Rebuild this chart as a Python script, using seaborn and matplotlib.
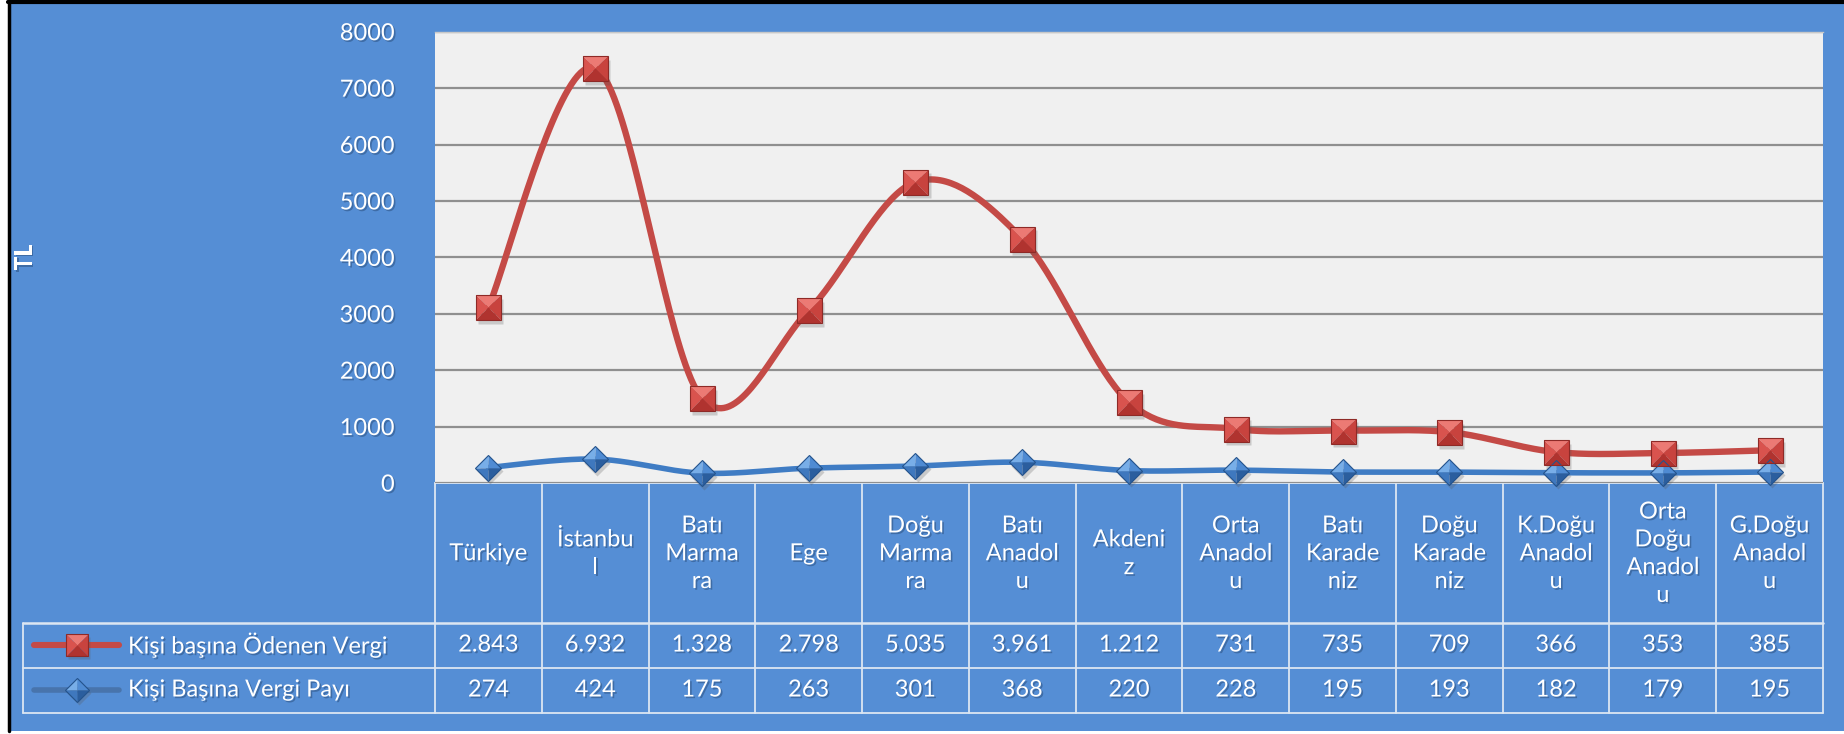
import numpy as np
import pandas as pd
import matplotlib
matplotlib.use("Agg")
import matplotlib.pyplot as plt
import matplotlib.patheffects as pe
from matplotlib.patches import Rectangle
import seaborn as sns

# ---------------- data ----------------
categories = ["Türkiye", "İstanbul", "Batı Marmara", "Ege", "Doğu Marmara",
              "Batı Anadolu", "Akdeniz", "Orta Anadolu", "Batı Karadeniz",
              "Doğu Karadeniz", "K.Doğu Anadolu", "Orta Doğu Anadolu",
              "G.Doğu Anadolu"]
header_labels = ["Türkiye", "İstanbu\nl", "Batı\nMarma\nra", "Ege",
                 "Doğu\nMarma\nra", "Batı\nAnadol\nu", "Akdeni\nz",
                 "Orta\nAnadol\nu", "Batı\nKarade\nniz", "Doğu\nKarade\nniz",
                 "K.Doğu\nAnadol\nu", "Orta\nDoğu\nAnadol\nu",
                 "G.Doğu\nAnadol\nu"]
odenen_vergi = [2843, 6932, 1328, 2798, 5035, 3961, 1212, 731, 735, 709, 366, 353, 385]
vergi_payi = [274, 424, 175, 263, 301, 368, 220, 228, 195, 193, 182, 179, 195]
series_names = ["Kişi başına Ödenen Vergi", "Kişi Başına Vergi Payı"]
y_ticks = [0, 1000, 2000, 3000, 4000, 5000, 6000, 7000, 8000]
y_label = "TL"

# ---------------- style ----------------
sns.set_style("white")
plt.rcParams["font.family"] = ["Lato", "DejaVu Sans"]

W, H = 1844, 734
BG = "#558ED5"
RED_LINE = "#C44A46"
BLUE_LINE = "#3F7CC4"
GRID_C = "#DCE6F2"
FS = 17
shadow = [pe.withSimplePatchShadow(offset=(1.2, -1.2), shadow_rgbFace="#23446e", alpha=0.45)]

fig = plt.figure(figsize=(W / 100, H / 100), dpi=100, facecolor="white")

# overlay in pixel coordinates for frame and table
ov = fig.add_axes([0, 0, 1, 1], zorder=0)
ov.set_xlim(0, W)
ov.set_ylim(H, 0)
ov.axis("off")
ov.patch.set_alpha(0)
ov.add_patch(Rectangle((8, 0), W - 8, 731, facecolor=BG, edgecolor="none"))
ov.plot([8.5, 8.5], [0, 731], color="black", lw=2.5)
ov.plot([8, W], [1.5, 1.5], color="black", lw=3)

# plot area geometry (pixels)
PL, PR, PT, PB = 435, 1823, 31.7, 483
ax = fig.add_axes([PL / W, 1 - PB / H, (PR - PL) / W, (PB - PT) / H], zorder=2)
ax.set_facecolor("#F0F0F0")
n = len(categories)
ax.set_xlim(-0.5, n - 0.5)
ax.set_ylim(y_ticks[0], y_ticks[-1])
ax.set_yticks(y_ticks)
ax.set_yticklabels([str(t) for t in y_ticks])
ax.set_xticks([])
for s in ax.spines.values():
    s.set_visible(False)
ax.spines["top"].set_visible(True)
ax.spines["top"].set_color("#C8C8C8")
ax.spines["top"].set_linewidth(1)
ax.yaxis.grid(True, color="#8F8F8F", lw=1.6)
ax.set_axisbelow(True)
ax.tick_params(axis="y", length=0, pad=29, labelsize=FS, labelcolor="white")
for lab in ax.get_yticklabels():
    lab.set_path_effects(shadow)


def smooth(yvals, steps=40):
    y = np.asarray(yvals, float)
    x = np.arange(len(y), dtype=float)
    P = np.column_stack([x, y])
    Pp = np.vstack([P[0], P, P[-1]])
    t = np.linspace(0, 1, steps)[:, None]
    out = []
    for i in range(len(P) - 1):
        p0, p1, p2, p3 = Pp[i], Pp[i + 1], Pp[i + 2], Pp[i + 3]
        c1 = p1 + (p2 - p0) / 6
        c2 = p2 - (p3 - p1) / 6
        seg = (1 - t) ** 3 * p1 + 3 * (1 - t) ** 2 * t * c1 + 3 * (1 - t) * t ** 2 * c2 + t ** 3 * p2
        out.append(seg if i == 0 else seg[1:])
    return np.vstack(out)


# Excel stacked line chart: the upper series is drawn on top of the lower
stack_top = np.array(odenen_vergi) + np.array(vergi_payi)
xs = np.arange(n)

sb = smooth(vergi_payi)
sr = smooth(stack_top)
df_b = pd.DataFrame({"x": sb[:, 0], "y": sb[:, 1]})
df_r = pd.DataFrame({"x": sr[:, 0], "y": sr[:, 1]})
sns.lineplot(data=df_b, x="x", y="y", sort=False, estimator=None, ax=ax,
             color=BLUE_LINE, lw=4.0, zorder=3, solid_capstyle="round")
sns.lineplot(data=df_r, x="x", y="y", sort=False, estimator=None, ax=ax,
             color=RED_LINE, lw=4.6, zorder=3, solid_capstyle="round")
ax.set_xlabel("")
ax.set_ylabel("")

# pyramid-style markers built from four triangles
SQ_TRIS = [([(-1, 1), (1, 1), (0, 0)], "#EC7A74"),   # top
           ([(-1, 1), (-1, -1), (0, 0)], "#D9534E"),  # left
           ([(1, 1), (1, -1), (0, 0)], "#C8433E"),    # right
           ([(-1, -1), (1, -1), (0, 0)], "#B0332F")]  # bottom
DM_TRIS = [([(0, 1), (-1, 0), (0, 0)], "#78AEE8"),
           ([(0, 1), (1, 0), (0, 0)], "#4F8BD3"),
           ([(-1, 0), (0, -1), (0, 0)], "#3F78BE"),
           ([(1, 0), (0, -1), (0, 0)], "#2B5E9E")]


def pyramid(axis, x, y, tris, ms, edge):
    # soft shadow
    axis.plot(np.asarray(x, float), np.asarray(y, float), ls="none",
              marker=tris[0][0] if False else ("s" if tris is SQ_TRIS else "D"),
              ms=ms * (1.0 if tris is SQ_TRIS else 0.72), mfc="#555555", mec="none",
              alpha=0.25, zorder=4, clip_on=False,
              transform=axis.transData + matplotlib.transforms.ScaledTranslation(1.5 / 72, -2.5 / 72, fig.dpi_scale_trans))
    for verts, col in tris:
        axis.plot(x, y, ls="none", marker=verts, ms=ms, mfc=col, mec="none",
                  zorder=5, clip_on=False)
    axis.plot(x, y, ls="none", marker=("s" if tris is SQ_TRIS else "D"),
              ms=ms * (1.0 if tris is SQ_TRIS else 0.707), mfc="none", mec=edge,
              mew=0.8, zorder=6, clip_on=False)


pyramid(ax, xs, vergi_payi, DM_TRIS, 19, "#24538C")
pyramid(ax, xs, stack_top, SQ_TRIS, 18, "#8E2A27")

# y-axis title
ov.text(24, (PT + PB) / 2, y_label, rotation=90, ha="center", va="center",
        color="white", fontsize=FS, fontweight="bold", path_effects=shadow)

# ---------------- data table ----------------
colw = (PR - PL) / n
ROW0, ROW1, ROW2, ROW3 = PB, 622.5, 667.5, 712.5
LEG_L = 23
lw_t = 1.3
for k in range(n + 1):
    xk = PL + k * colw
    ov.plot([xk, xk], [ROW0, ROW3], color=GRID_C, lw=lw_t, zorder=1)
ov.plot([PL, PR], [ROW0, ROW0], color=GRID_C, lw=lw_t, zorder=1)
for yy in (ROW1, ROW2, ROW3):
    ov.plot([LEG_L, PR], [yy, yy], color=GRID_C, lw=lw_t * 1.4 if yy == ROW1 else lw_t, zorder=1)
ov.plot([LEG_L, LEG_L], [ROW1, ROW3], color=GRID_C, lw=lw_t, zorder=1)


def fmt(v):
    return f"{v:,}".replace(",", ".")


for i in range(n):
    cx = PL + (i + 0.5) * colw
    ov.text(cx, (ROW0 + ROW1) / 2 + 1, header_labels[i], ha="center", va="center",
            multialignment="center", color="white", fontsize=FS, linespacing=1.4,
            path_effects=shadow)
    ov.text(cx, (ROW1 + ROW2) / 2, fmt(odenen_vergi[i]), ha="center", va="center",
            color="white", fontsize=FS, path_effects=shadow)
    ov.text(cx, (ROW2 + ROW3) / 2, fmt(vergi_payi[i]), ha="center", va="center",
            color="white", fontsize=FS, path_effects=shadow)

# legend keys in the table
y1 = (ROW1 + ROW2) / 2
y2 = (ROW2 + ROW3) / 2
ov.plot([34, 119], [y1, y1], color=RED_LINE, lw=4.4, solid_capstyle="round", zorder=3)
ov.plot([34, 119], [y2, y2], color="#4874AC", lw=4.0, solid_capstyle="round", zorder=3)
pyramid(ov, [77], [y1], SQ_TRIS, 16, "#8E2A27")
pyramid(ov, [77], [y2], DM_TRIS, 17, "#24538C")
ov.text(128, y1, series_names[0], ha="left", va="center", color="white",
        fontsize=FS, path_effects=shadow)
ov.text(128, y2, series_names[1], ha="left", va="center", color="white",
        fontsize=FS, path_effects=shadow)

fig.savefig("out.png", dpi=100, facecolor=fig.get_facecolor())
